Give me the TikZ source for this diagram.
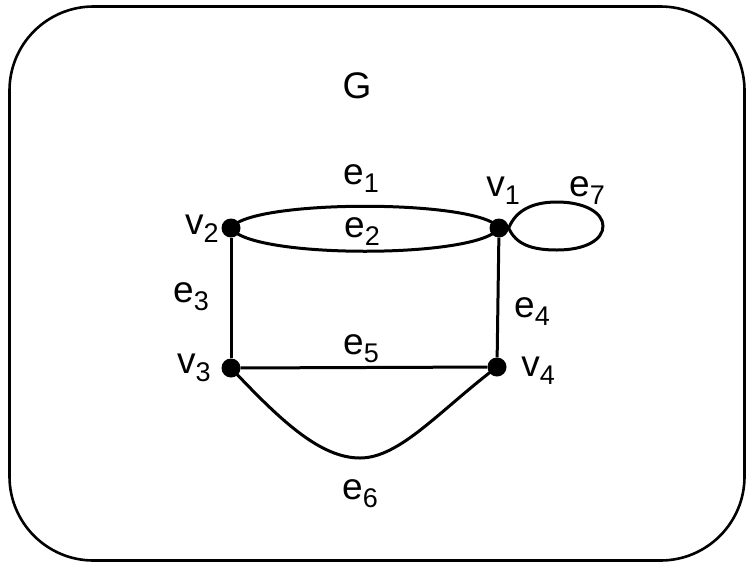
\documentclass[tikz,border=0pt]{standalone}
\usepackage{fontspec}
\setmainfont{Liberation Sans}
\newcommand\mylab[2]{#1\raisebox{-8pt}{\fontsize{27}{30}\selectfont #2}}
\begin{document}
\begin{tikzpicture}[x=1pt,y=-1pt,
  vert/.style={circle,fill=black,inner sep=0pt,minimum size=19pt},
  lbl/.style={inner sep=0pt,font=\fontsize{37}{42}\selectfont},
  edge/.style={line width=3pt,black}]
\useasboundingbox (0,0) rectangle (746,563);
\draw[line width=2.6pt,rounded corners=84pt] (9.5,6.5) rectangle (744.5,560.5);
\node[vert] (v2) at (231,228) {};
\node[vert] (v1) at (499,228) {};
\node[vert] (v3) at (231,368) {};
\node[vert] (v4) at (497,367) {};
\draw[edge] (v2.center) .. controls (250,199) and (480,199) .. (v1.center);
\draw[edge] (v2.center) .. controls (250,259) and (480,259) .. (v1.center);
\draw[edge] (v2) -- (v3);
\draw[edge] (v1) -- (v4);
\draw[edge] (v3) -- (v4);
\draw[edge] (v3.center) .. controls (280,420) and (320,458) .. (360,458) .. controls (400,458) and (440,410) .. (v4.center);
\draw[edge] (v1.east) .. controls (516,210) and (533,202) .. (557,202) .. controls (585,202) and (603,213) .. (603,226) .. controls (603,240) and (585,250) .. (557,250) .. controls (533,250) and (516,245) .. (v1.east);
\node[lbl] (G) at (357,86) {G};
\node[lbl] (le1) at (361,179) {\mylab{e}{1}};
\node[lbl] (le2) at (362,232) {\mylab{e}{2}};
\node[lbl] (le3) at (191,297) {\mylab{e}{3}};
\node[lbl] (le4) at (532,312) {\mylab{e}{4}};
\node[lbl] (le5) at (361,349) {\mylab{e}{5}};
\node[lbl] (le6) at (360,494) {\mylab{e}{6}};
\node[lbl] (le7) at (587,191) {\mylab{e}{7}};
\node[lbl] (lv1) at (503,191) {\mylab{v}{1}};
\node[lbl] (lv2) at (202,229) {\mylab{v}{2}};
\node[lbl] (lv3) at (194,368) {\mylab{v}{3}};
\node[lbl] (lv4) at (538,371) {\mylab{v}{4}};
\end{tikzpicture}
\end{document}
